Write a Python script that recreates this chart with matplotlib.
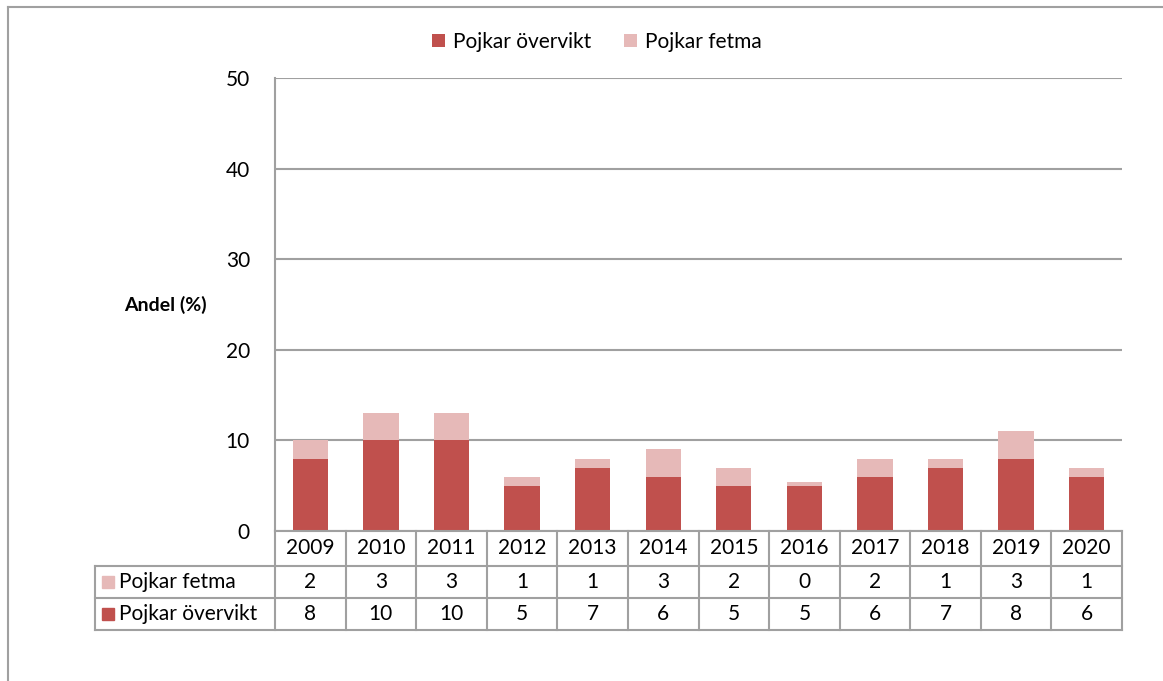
import matplotlib.pyplot as plt
from matplotlib.lines import Line2D

plt.rcParams['font.family'] = ['Lato', 'DejaVu Sans']

ar = ['2009', '2010', '2011', '2012', '2013', '2014', '2015', '2016', '2017', '2018', '2019', '2020']
overvikt = [8, 10, 10, 5, 7, 6, 5, 5, 6, 7, 8, 6]
fetma = [2, 3, 3, 1, 1, 3, 2, 0.4, 2, 1, 3, 1]
namn_overvikt = 'Pojkar övervikt'
namn_fetma = 'Pojkar fetma'

morkrod = '#C0504D'
ljusrod = '#E6B9B8'
gra = '#A0A0A0'
fs = 15

W, H = 1163, 681
fig = plt.figure(figsize=(W / 100, H / 100), dpi=100)

# ram runt hela bilden (bara vänster och topp syns)
fig.add_artist(Line2D([8 / W, 8 / W], [0, 1 - 7 / H], color=gra, lw=1.5))
fig.add_artist(Line2D([8 / W, 1], [1 - 7 / H, 1 - 7 / H], color=gra, lw=1.5))

ax = fig.add_axes([275 / W, (H - 531) / H, 847 / W, (531 - 78) / H])
x = list(range(len(ar)))
ax.bar(x, overvikt, width=0.5, color=morkrod, label=namn_overvikt, zorder=3)
ax.bar(x, fetma, width=0.5, bottom=overvikt, color=ljusrod, label=namn_fetma, zorder=3)
ax.set_xlim(-0.5, len(ar) - 0.5)
ax.set_ylim(0, 50)
ax.set_yticks([0, 10, 20, 30, 40, 50])
ax.yaxis.grid(True, color=gra, lw=1.5, zorder=0)
ax.set_xticks([])
ax.tick_params(axis='y', length=0, pad=18, labelsize=fs)
for s in ['top', 'right', 'bottom']:
    ax.spines[s].set_visible(False)
ax.spines['left'].set_color(gra)
ax.spines['left'].set_linewidth(1.5)

fig.text(165 / W, 1 - 305 / H, 'Andel (%)', fontsize=fs - 1, fontweight='bold',
         ha='center', va='center')

fig.legend(loc='center', bbox_to_anchor=(597 / W, 1 - 42 / H), ncol=2, frameon=False,
           fontsize=fs, handlelength=0.6, handleheight=0.6, handletextpad=0.4,
           columnspacing=1.6)

# datatabell
tab = fig.add_axes([95 / W, (H - 630) / H, (1122 - 95) / W, 99 / H])
x0 = -0.5 - 180 / (847 / 12)
tab.set_xlim(x0, len(ar) - 0.5)
tab.set_ylim(99, 0)
tab.axis('off')
kw = dict(color=gra, lw=1.5, clip_on=False)
for i in range(len(ar) + 1):
    tab.plot([i - 0.5, i - 0.5], [0, 99], **kw)
tab.plot([x0, x0], [35, 99], **kw)
tab.plot([-0.5, len(ar) - 0.5], [0, 0], **kw)
for yy in [35, 67, 99]:
    tab.plot([x0, len(ar) - 0.5], [yy, yy], **kw)

for i, a in enumerate(ar):
    tab.text(i, 17.5, a, ha='center', va='center', fontsize=fs)
    tab.text(i, 51, str(round(fetma[i])), ha='center', va='center', fontsize=fs)
    tab.text(i, 83, str(overvikt[i]), ha='center', va='center', fontsize=fs)

mx = x0 + 13 / (847 / 12)
tx = x0 + 24 / (847 / 12)
tab.plot([mx], [51], marker='s', ms=8, color=ljusrod, clip_on=False)
tab.plot([mx], [83], marker='s', ms=8, color=morkrod, clip_on=False)
tab.text(tx, 51, namn_fetma, ha='left', va='center', fontsize=fs)
tab.text(tx, 83, namn_overvikt, ha='left', va='center', fontsize=fs)

fig.savefig('out.png', dpi=100)
